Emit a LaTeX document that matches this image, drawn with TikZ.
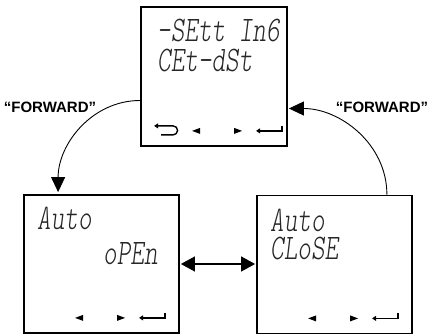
\documentclass[tikz,border=0pt]{standalone}
\usepackage{fontspec}
\setsansfont{Liberation Sans}
\newfontfamily\lcdfont{lmmonolt10-oblique}[Extension=.otf,FakeStretch=0.72]
\usetikzlibrary{positioning,arrows.meta,calc}

\tikzset{
  panel/.style={draw, line width=1.8pt, inner sep=0pt, minimum width=155pt, minimum height=138pt},
  lcd/.style={anchor=base west, inner sep=0pt, align=left, text=black!85, font=\lcdfont\fontsize{36}{29}\selectfont},
  flow/.style={line width=0.9pt, -{Triangle[length=15pt,width=14pt]}},
  tag/.style={inner sep=0pt, font=\sffamily\bfseries\fontsize{15}{16}\selectfont},
}

\begin{document}
\begin{tikzpicture}[x=1pt,y=1pt]
  \useasboundingbox (0,0) rectangle (429,335);
  % the three displays
  \node[panel, minimum width=146pt, minimum height=139pt] (setting) at (214,258.5) {};
  \node[panel] (autoopen) at (101.5,71) {};
  \node[panel] (autoclose) at (334.5,70.5) {};

  % base anchor sits on the last line
  \node[lcd] (settingtext) at (157,263) {-SEtt In6\\[1pt]CEt-dSt};
  \node[lcd] (opentext) at (37,70) {Auto\\[6pt]\hspace*{66pt}oPEn};
  \node[lcd] (closetext) at (270,75) {Auto\\[-1pt]CLoSE};

  % key row in each display
  \foreach \b in {setting,autoopen,autoclose}{
    \fill ($(\b.south west)+(52,16)$) -- ++(8,3) -- ++(0,-6) -- cycle;
    \fill ($(\b.south west)+(102,16)$) -- ++(-8,3) -- ++(0,-6) -- cycle;
    \draw[line width=1.4pt, -{Triangle[length=4pt,width=5pt]}]
      ($(\b.south west)+(142,21)$) |- ($(\b.south west)+(116,16)$);
  }
  \draw[line width=1.4pt, -{Triangle[length=4pt,width=5pt]}]
    ($(setting.south west)+(21,12)$) -- ++(12,0) arc(-90:90:4.5) -- ++(-19,0);

  % connectors
  \draw[flow] ([yshift=-24pt]setting.west) to[out=180,in=90] ([xshift=35pt,yshift=2pt]autoopen.north west);
  \draw[flow] ([xshift=-26pt]autoclose.north east) to[out=90,in=0] ([xshift=1pt,yshift=-32pt]setting.east);
  \draw[line width=1.2pt, {Triangle[length=14pt,width=15pt]}-{Triangle[length=14pt,width=15pt]}]
    ([xshift=1pt]autoopen.east) -- ([xshift=-1pt]autoopen.east -| autoclose.west);

  \node[tag] (fwdleft) at (50,228) {“FORWARD”};
  \node[tag] (fwdright) at (382,228) {“FORWARD”};
\end{tikzpicture}
\end{document}
